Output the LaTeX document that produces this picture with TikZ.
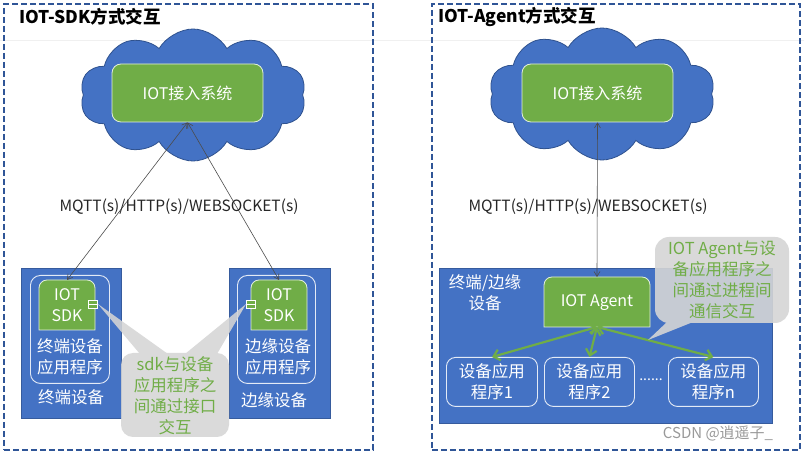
\documentclass[tikz,border=0pt]{standalone}
\usepackage{fontspec}
\newfontfamily\cjk{Noto Sans CJK SC}
\usetikzlibrary{shapes.symbols,arrows.meta}
\definecolor{oblue}{HTML}{4472C4}
\definecolor{cloudline}{HTML}{2F528F}
\definecolor{ogreen}{HTML}{70AD47}
\definecolor{framec}{HTML}{2F5597}
\definecolor{callg}{HTML}{D5D5D5}
\tikzset{
  frame/.style={draw=framec, line width=1.8pt, dash pattern=on 6pt off 3pt, rectangle, inner sep=0pt, anchor=north west},
  titletext/.style={font=\cjk\bfseries\fontsize{17.5}{20}\selectfont, anchor=west, inner sep=0pt},
  cloudsty/.style={cloud, cloud puffs=10, cloud puff arc=120, aspect=1.7, fill=oblue, draw=cloudline, line width=0.8pt, minimum width=226pt, minimum height=132pt, inner sep=0pt},
  sysbox/.style={rectangle, rounded corners=9pt, fill=ogreen, draw=white!80!ogreen, line width=0.8pt, text=white, font=\cjk\fontsize{16}{20}\selectfont, inner sep=0pt},
  topround/.style={rectangle, inner sep=0pt, text=white, align=center},
  bluebox/.style={rectangle, fill=oblue, draw=oblue!80!black, line width=0.5pt, inner sep=0pt, anchor=north west},
  inbox/.style={rectangle, rounded corners=10pt, draw=white!85!oblue, line width=0.9pt, inner sep=0pt, anchor=north west},
  wtext/.style={text=white, font=\cjk\fontsize{16.5}{21}\selectfont, align=center, inner sep=0pt},
  gtext/.style={text=ogreen, font=\cjk\fontsize{16.5}{21}\selectfont, align=center, inner sep=0pt},
  label/.style={text=black!85, font=\cjk\fontsize{15.5}{18}\selectfont, inner sep=0pt},
  iconsty/.style={rectangle, fill=ogreen, draw=white, line width=0.8pt, minimum width=9pt, minimum height=8pt, inner sep=0pt},
  appbox/.style={rectangle, rounded corners=9pt, draw=white!85!oblue, line width=0.9pt, fill=oblue, text=white, font=\cjk\fontsize{16.5}{21}\selectfont, align=center, inner sep=0pt, anchor=north west},
  thinarrow/.style={draw=black!70, line width=0.6pt, {Straight Barb[length=5pt,width=6pt]}-{Straight Barb[length=5pt,width=6pt]}},
  greenarrow/.style={draw=ogreen, line width=2.2pt, {Straight Barb[length=6pt,width=11pt]}-{Straight Barb[length=6pt,width=11pt]}},
}
\newcommand{\greentop}[5]{% name, x, y (top-left), w, h
  \fill[ogreen, draw=white!80!ogreen, line width=0.8pt] (#2,#3+#5) -- (#2,#3+8) arc[start angle=180,end angle=90,radius=8pt] -- (#2+#4-8,#3) arc[start angle=90,end angle=0,radius=8pt] -- (#2+#4,#3+#5) -- cycle;
  \path (#2,#3) coordinate (#1nw) (#2+#4,#3+#5) coordinate (#1se);
}
\begin{document}
\begin{tikzpicture}[x=1pt,y=-1pt]
\useasboundingbox (0,0) rectangle (804,454);
\fill[white] (0,0) rectangle (804,454);
\draw[black!6, line width=0.6pt] (0,40) -- (804,40);

% frames
\node[frame, minimum width=369pt, minimum height=446pt] (lframe) at (3,3) {};
\node[frame, minimum width=368pt, minimum height=446pt] (rframe) at (431,3) {};
\node[titletext] (ltitle) at (19,17) {IOT-SDK方式交互};
\node[titletext] (rtitle) at (438,17) {IOT-Agent方式交互};

% clouds
\node[cloudsty] (lcloud) at (193,95) {};
\node[cloudsty] (rcloud) at (602,94) {};
\node[sysbox, minimum width=151pt, minimum height=58pt] (lsys) at (187.5,93) {IOT接入系统};
\node[sysbox, minimum width=151pt, minimum height=58pt] (rsys) at (597.5,93) {IOT接入系统};

% left devices
\node[bluebox, minimum width=100pt, minimum height=150pt] (ldev) at (21,268) {};
\node[inbox, minimum width=79pt, minimum height=108pt] (lin) at (30,275) {};
\greentop{lg}{39}{280}{56}{50}
\node[topround, font=\cjk\fontsize{16}{21}\selectfont] (lsdk) at (67,305) {IOT\\SDK};
\coordinate (lsdktop) at (67,280);
\node[iconsty] (licon) at (93,304) {};
\draw[white, line width=0.7pt] (licon.west) -- (licon.east);
\node[wtext] (lapp) at (70,357) {终端设备\\应用程序};
\node[wtext] (ldevl) at (71,397) {终端设备};

\node[bluebox, minimum width=101pt, minimum height=150pt] (rdevs) at (229,268) {};
\node[inbox, minimum width=78pt, minimum height=108pt] (rin) at (237,275) {};
\greentop{rg}{251}{280}{56}{50}
\node[topround, font=\cjk\fontsize{16}{21}\selectfont] (rsdk) at (279,305) {IOT\\SDK};
\coordinate (rsdktop) at (279,280);
\node[iconsty] (ricon) at (251,304) {};
\draw[white, line width=0.7pt] (ricon.west) -- (ricon.east);
\node[wtext] (rapp) at (278,357) {边缘设备\\应用程序};
\node[wtext] (rdevl) at (274,400) {边缘设备};

% left arrows and label
\draw[thinarrow] (lsys.south) -- (lsdktop);
\draw[thinarrow] (lsys.south) -- (rsdktop);
\node[label] (lproto) at (179,207) {MQTT(s)/HTTP(s)/WEBSOCKET(s)};

% left callout
\begin{scope}[transparency group, opacity=0.88]
\fill[callg] [rounded corners=12pt] (121,353) rectangle (229,437);
\fill[callg] (licon.east) -- (168,354) -- (140,354) -- cycle;
\fill[callg] (ricon.west) -- (185,354) -- (217,354) -- cycle;
\end{scope}
\node[gtext] (lcall) at (175,396) {sdk与设备\\应用程序之\\间通过接口\\交互};

% right device
\node[bluebox, minimum width=333pt, minimum height=155pt] (rdev) at (439,268) {};
\node[wtext] (rdevlab) at (485,293) {终端/边缘\\设备};
\greentop{ag}{544}{277}{106}{50}
\node[topround, font=\cjk\fontsize{16}{20}\selectfont] (agent) at (597,303) {IOT Agent};
\coordinate (agenttop) at (597,277);
\coordinate (agentbot) at (597,327);
\node[appbox, minimum width=91pt, minimum height=49pt] (app1) at (446,357) {设备应用\\程序1};
\node[appbox, minimum width=90pt, minimum height=49pt] (app2) at (544,357) {设备应用\\程序2};
\node[appbox, minimum width=90pt, minimum height=49pt] (appn) at (668,357) {设备应用\\程序n};
\node[text=white, font=\cjk\fontsize{14}{16}\selectfont, inner sep=0pt] (dots) at (651,380) {......};

\draw[thinarrow] (rsys.south) -- (agenttop);
\node[label] (rproto) at (588,207) {MQTT(s)/HTTP(s)/WEBSOCKET(s)};

\draw[greenarrow] (agentbot) -- (app1.north);
\draw[greenarrow] (agentbot) -- (app2.north);
\draw[greenarrow] (agentbot) -- (appn.north);

% right callout
\begin{scope}[transparency group, opacity=0.9]
\fill[callg] [rounded corners=14pt] (655,237) rectangle (789,323);
\fill[callg] (667,322) -- (693,322) -- (648,340) -- cycle;
\end{scope}
\node[gtext] (rcall) at (722,280) {IOT Agent与设\\备应用程序之\\间通过进程间\\通信交互};

\node[text=black!40, font=\cjk\fontsize{15}{18}\selectfont, inner sep=0pt] (wm) at (718,434) {CSDN @逍遥子\_};
\end{tikzpicture}
\end{document}
